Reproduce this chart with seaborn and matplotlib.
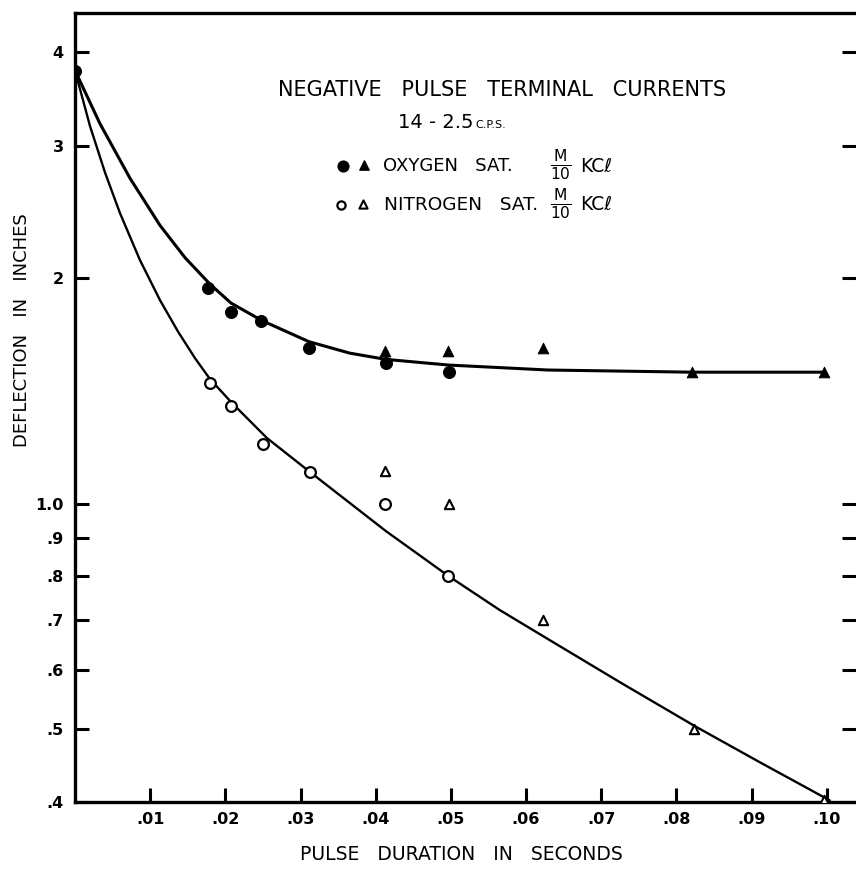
import numpy as np
import pandas as pd
import matplotlib
matplotlib.use("Agg")
import matplotlib.pyplot as plt
import seaborn as sns

# ---------------- data ----------------
ox_circ_x = [0.0, 0.0177, 0.0207, 0.0248, 0.0311, 0.0414, 0.0497]
ox_circ_y = [3.78, 1.94, 1.80, 1.75, 1.61, 1.54, 1.50]
ox_tri_x = [0.0412, 0.0496, 0.0623, 0.0821, 0.0996]
ox_tri_y = [1.60, 1.60, 1.61, 1.50, 1.50]

ni_circ_x = [0.0179, 0.0208, 0.0250, 0.0313, 0.0413, 0.0496]
ni_circ_y = [1.446, 1.349, 1.20, 1.103, 1.00, 0.80]
ni_tri_x = [0.0412, 0.0497, 0.0622, 0.0824, 0.0997]
ni_tri_y = [1.106, 1.00, 0.70, 0.50, 0.402]

# fitted curves
ox_curve_x = [0.0, 0.00332, 0.00731, 0.01130, 0.01463, 0.01795, 0.02075,
              0.02487, 0.03112, 0.03657, 0.04136, 0.04973, 0.06290,
              0.08205, 0.0996]
ox_curve_y = [3.78, 3.211, 2.716, 2.350, 2.128, 1.962, 1.851,
              1.754, 1.644, 1.587, 1.557, 1.530, 1.507,
              1.497, 1.497]

ni_curve_x = [0.0, 0.00200, 0.00399, 0.00598, 0.00864, 0.01130, 0.01370,
              0.01596, 0.01795, 0.02088, 0.02553, 0.03125, 0.04136,
              0.04973, 0.05652, 0.06223, 0.07247, 0.08245, 0.09109, 0.1004]
ni_curve_y = [3.78, 3.186, 2.764, 2.440, 2.112, 1.868, 1.696,
              1.563, 1.466, 1.362, 1.223, 1.102, 0.919,
              0.800, 0.721, 0.666, 0.578, 0.505, 0.452, 0.402]

y_ticks = [0.4, 0.5, 0.6, 0.7, 0.8, 0.9, 1.0, 2, 3, 4]
y_tick_labels = [".4", ".5", ".6", ".7", ".8", ".9", "1.0", "2", "3", "4"]
x_ticks = [0.01, 0.02, 0.03, 0.04, 0.05, 0.06, 0.07, 0.08, 0.09, 0.10]
x_tick_labels = [".01", ".02", ".03", ".04", ".05", ".06", ".07", ".08", ".09", ".10"]

# ---------------- figure ----------------
sns.set_style("ticks")
plt.rcParams['font.family'] = ['DejaVu Sans']
plt.rcParams['mathtext.fontset'] = 'dejavusans'
plt.rcParams['text.color'] = 'black'
plt.rcParams['axes.labelcolor'] = 'black'

W, H = 856, 873
fig = plt.figure(figsize=(W / 100, H / 100), dpi=100)
ax = fig.add_axes([75 / W, 71 / H, 781 / W, 789 / H])

ox_curve = pd.DataFrame({"x": ox_curve_x, "y": ox_curve_y})
ni_curve = pd.DataFrame({"x": ni_curve_x, "y": ni_curve_y})
sns.lineplot(data=ox_curve, x="x", y="y", ax=ax, color="black", lw=2.2,
             sort=False, estimator=None)
sns.lineplot(data=ni_curve, x="x", y="y", ax=ax, color="black", lw=1.7,
             sort=False, estimator=None)

sns.scatterplot(x=ox_circ_x, y=ox_circ_y, ax=ax, marker="o", s=75,
                color="black", edgecolor="black", zorder=5)
sns.scatterplot(x=ox_tri_x, y=ox_tri_y, ax=ax, marker="^", s=60,
                color="black", edgecolor="black", zorder=5)
sns.scatterplot(x=ni_circ_x, y=ni_circ_y, ax=ax, marker="o", s=60,
                facecolor="white", edgecolor="black", linewidth=1.6, zorder=5)
sns.scatterplot(x=ni_tri_x, y=ni_tri_y, ax=ax, marker="^", s=45,
                facecolor="white", edgecolor="black", linewidth=1.5, zorder=5)

ax.set_yscale("log")
ax.set_ylim(0.4, 4.51)
ax.set_xlim(0.0, 0.1039)
ax.set_yticks(y_ticks)
ax.set_yticklabels(y_tick_labels)
ax.yaxis.set_minor_locator(matplotlib.ticker.NullLocator())
ax.set_xticks(x_ticks)
ax.set_xticklabels(x_tick_labels)

for side in ["left", "bottom", "top"]:
    ax.spines[side].set_linewidth(2.4)
    ax.spines[side].set_color("black")
ax.spines["right"].set_visible(False)

ax.tick_params(axis="both", which="major", direction="in", length=10,
               width=2.2, labelsize=11.5, colors="black")
ax.tick_params(axis="y", right=True, pad=8)
ax.tick_params(axis="x", pad=7)
for lab in ax.get_yticklabels() + ax.get_xticklabels():
    lab.set_fontweight("bold")

ax.set_xlabel("PULSE   DURATION   IN   SECONDS", fontsize=13.5)
ax.set_ylabel("DEFLECTION   IN   INCHES", fontsize=13)
ax.xaxis.set_label_coords((461 - 75) / 781, (802 - 855) / 789)
ax.yaxis.set_label_coords((22 - 75) / 781, (802 - 330) / 789)
ax.xaxis.label.set_va("center")
ax.yaxis.label.set_va("center")
ax.yaxis.label.set_ha("center")
ax.yaxis.label.set_rotation_mode("default")

# ---------------- annotation text ----------------
def fx(px):
    return px / W

def fy(py):
    return 1 - py / H

fig.text(fx(502), fy(90), "NEGATIVE   PULSE   TERMINAL   CURRENTS",
         fontsize=15, ha="center", va="center")
fig.text(fx(436), fy(123), "14 - 2.5", fontsize=14, ha="center", va="center")
fig.text(fx(475), fy(125), "C.P.S.", fontsize=8, ha="left", va="center")

# legend rows
fig.text(fx(383), fy(166), "OXYGEN   SAT.", fontsize=13, ha="left", va="center")
fig.text(fx(561), fy(165), r"$\frac{\mathrm{M}}{\mathrm{10}}$", fontsize=16,
         ha="center", va="center")
fig.text(fx(580), fy(166), "KCℓ", fontsize=13.5, ha="left", va="center")

fig.text(fx(384), fy(205), "NITROGEN   SAT.", fontsize=13.3, ha="left", va="center")
fig.text(fx(561), fy(204), r"$\frac{\mathrm{M}}{\mathrm{10}}$", fontsize=16,
         ha="center", va="center")
fig.text(fx(580), fy(205), "KCℓ", fontsize=13.5, ha="left", va="center")

# legend markers
leg = fig.add_axes([0, 0, 1, 1], facecolor="none")
leg.set_xlim(0, W)
leg.set_ylim(H, 0)
leg.axis("off")
leg.scatter([343], [166], marker="o", s=60, color="black")
leg.scatter([364], [165], marker="^", s=45, color="black")
leg.scatter([341], [205], marker="o", s=35, facecolor="white",
            edgecolor="black", linewidth=1.6)
leg.scatter([363], [204], marker="^", s=35, facecolor="white",
            edgecolor="black", linewidth=1.5)

fig.savefig("out.png", dpi=100)
